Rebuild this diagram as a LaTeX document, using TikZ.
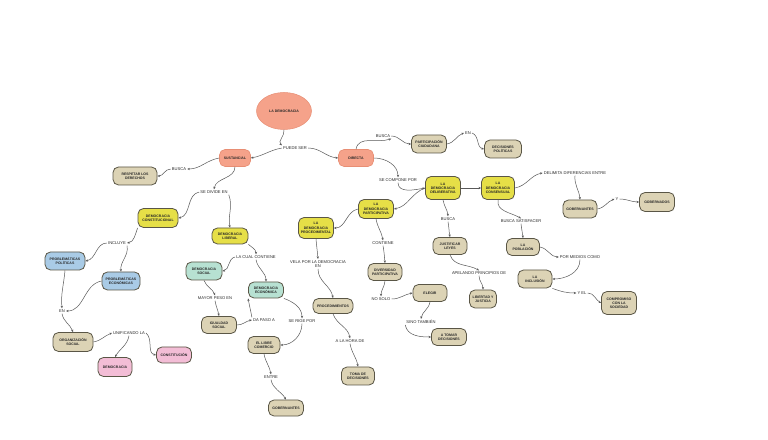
\documentclass[tikz,border=0pt]{standalone}
\usepackage{fontspec}
\setmainfont{Liberation Sans}
\usetikzlibrary{arrows.meta,shapes.geometric}
\definecolor{salmon}{HTML}{F5A28A}
\definecolor{salmonb}{HTML}{E88E74}
\definecolor{yel}{HTML}{E6DF47}
\definecolor{tanf}{HTML}{DCD3B5}
\definecolor{bluef}{HTML}{A9CBE6}
\definecolor{greenf}{HTML}{B7E1D2}
\definecolor{pinkf}{HTML}{F3BDD6}
\definecolor{bord}{HTML}{5A5646}
\tikzset{
  bx/.style={draw=bord, line width=0.8pt, rounded corners=5.5pt, align=center, inner sep=1pt,
     font=\bfseries\fontsize{3.5}{4.2}\selectfont, text=black!85},
  sal/.style={bx, fill=salmon, draw=salmonb, line width=0.6pt},
  yb/.style={bx, fill=yel},
  tb/.style={bx, fill=tanf},
  bb/.style={bx, fill=bluef},
  gb/.style={bx, fill=greenf},
  pb/.style={bx, fill=pinkf},
  lb/.style={align=center, inner sep=1pt, font=\fontsize{4.1}{4.8}\selectfont, text=black!85},
  ar/.style={-{Stealth[length=2.6pt,width=2.2pt]}, draw=black!65, line width=0.5pt},
}
\begin{document}
\begin{tikzpicture}[x=1pt,y=1pt]
\useasboundingbox (0,0) rectangle (768,439);
\fill[white] (0,0) rectangle (768,439);
% nodes
\node[ellipse, fill=salmon, draw=salmonb, line width=0.5pt, minimum width=55pt, minimum height=37pt, inner sep=0pt, font=\bfseries\fontsize{3.5}{4.2}\selectfont, text=black!85] (dem) at (284,328) {LA DEMOCRACIA};
\node[lb] (puede) at (295,291) {PUEDE SER};
\node[sal, minimum width=31pt, minimum height=17pt] (sust) at (235,281) {SUSTANCIAL};
\node[sal, minimum width=35pt, minimum height=17pt] (dir) at (356,281) {DIRECTA};
\node[lb] (busca1) at (179,270) {BUSCA};
\node[tb, minimum width=44pt, minimum height=18pt] (resp) at (135,263) {RESPETAR LOS\\DERECHOS};
\node[lb] (divide) at (214,247) {SE DIVIDE EN};
\node[yb, minimum width=40pt, minimum height=19pt] (const) at (158,221) {DEMOCRACIA\\CONSTITUCIONAL};
\node[yb, minimum width=36pt, minimum height=16pt] (lib) at (230,203) {DEMOCRACIA\\LIBERAL};
\node[lb] (incluye) at (117,196) {INCLUYE};
\node[bb, minimum width=40pt, minimum height=18pt] (ppol) at (65,178) {PROBLEMÁTICAS\\POLÍTICAS};
\node[bb, minimum width=38pt, minimum height=18pt] (peco) at (121,158) {PROBLEMÁTICAS\\ECONÓMICAS};
\node[lb] (en1) at (62,128) {EN};
\node[tb, minimum width=40pt, minimum height=19pt] (org) at (73,97) {ORGANIZACIÓN\\SOCIAL};
\node[lb] (unif) at (129,106) {UNIFICANDO LA};
\node[pb, minimum width=34pt, minimum height=19pt] (demp) at (115,72) {DEMOCRACIA};
\node[pb, minimum width=35pt, minimum height=16pt] (constp) at (174,84) {CONSTITUCIÓN};
\node[gb, minimum width=36pt, minimum height=18pt] (dsoc) at (204,168) {DEMOCRACIA\\SOCIAL};
\node[lb] (cual) at (256,182) {LA CUAL CONTIENE};
\node[gb, minimum width=35pt, minimum height=16pt] (deco) at (266,149) {DEMOCRACIA\\ECONÓMICA};
\node[lb] (mayor) at (215,141) {MAYOR PESO EN};
\node[tb, minimum width=35pt, minimum height=17pt] (igual) at (219,114) {IGUALDAD\\SOCIAL};
\node[lb] (dapaso) at (264,119) {DA PASO A};
\node[lb] (rige) at (302,118) {SE RIGE POR};
\node[tb, minimum width=32pt, minimum height=17pt] (libre) at (264,94) {EL LIBRE\\COMERCIO};
\node[lb] (entre) at (271,62) {ENTRE};
\node[tb, minimum width=35pt, minimum height=16pt] (gob1) at (286,31) {GOBERNANTES};
\node[yb, minimum width=35pt, minimum height=21pt] (proc) at (316,211) {LA\\DEMOCRACIA\\PROCEDIMENTAL};
\node[lb] (vela) at (318,175) {VELA POR LA DEMOCRACIA\\EN};
\node[tb, minimum width=40pt, minimum height=15pt] (procs) at (333,133) {PROCEDIMIENTOS};
\node[lb] (hora) at (350,98) {A LA HORA DE};
\node[tb, minimum width=33pt, minimum height=18pt] (toma) at (358,63) {TOMA DE\\DECISIONES};
\node[yb, minimum width=35pt, minimum height=19pt] (part) at (376,230) {LA\\DEMOCRACIA\\PARTICIPATIVA};
\node[lb] (contiene) at (383,196) {CONTIENE};
\node[tb, minimum width=34pt, minimum height=17pt] (divp) at (385,167) {DIVERSIDAD\\PARTICIPATIVA};
\node[lb] (nosolo) at (381,140) {NO SOLO};
\node[tb, minimum width=34pt, minimum height=17pt] (elegir) at (430,146) {ELEGIR};
\node[lb] (sino) at (421,117) {SINO TAMBIÉN};
\node[tb, minimum width=35pt, minimum height=17pt] (atomar) at (449,102) {A TOMAR\\DECISIONES};
\node[lb] (busca2) at (383,303) {BUSCA};
\node[tb, minimum width=35pt, minimum height=18pt] (pc) at (429,295) {PARTICIPACIÓN\\CIUDADANA};
\node[lb] (en2) at (468,306) {EN};
\node[tb, minimum width=37pt, minimum height=18pt] (decp) at (503,290) {DECISIONES\\POLÍTICAS};
\node[lb] (compone) at (398,259) {SE COMPONE POR};
\node[yb, minimum width=35pt, minimum height=23pt] (delib) at (443,251) {LA\\DEMOCRACIA\\DELIBERATIVA};
\node[yb, minimum width=33pt, minimum height=23pt] (cons) at (498,251) {LA\\DEMOCRACIA\\CONSENSUAL};
\node[lb] (delim) at (575,266) {DELIMITA DIFERENCIAS ENTRE};
\node[tb, minimum width=34pt, minimum height=18pt] (gob2) at (580,230) {GOBERNANTES};
\node[lb] (y) at (617,240) {Y};
\node[tb, minimum width=35pt, minimum height=19pt] (gobd) at (657,237) {GOBERNADOS};
\node[lb] (busca3) at (448,220) {BUSCA};
\node[tb, minimum width=34pt, minimum height=17pt] (just) at (450,193) {JUSTIFICAR\\LEYES};
\node[lb] (apel) at (479,166) {APELANDO PRINCIPIOS DE};
\node[tb, minimum width=27pt, minimum height=18pt] (libj) at (483,140) {LIBERTAD Y\\JUSTICIA};
\node[lb] (satis) at (521,218) {BUSCA SATISFACER};
\node[tb, minimum width=33pt, minimum height=17pt] (pob) at (523,192) {LA\\POBLACIÓN};
\node[lb] (medios) at (580,182) {POR MEDIOS COMO};
\node[tb, minimum width=34pt, minimum height=18pt] (incl) at (535,160) {LA\\INCLUSIÓN};
\node[lb] (yel) at (582,146) {Y EL};
\node[tb, minimum width=35pt, minimum height=23pt] (comp) at (619,136) {COMPROMISO\\CON LA\\SOCIEDAD};
% connectors
\draw[ar] (dem.south) to[out=-80,in=140] (puede.north west);
\draw[ar] (puede.west) to[out=190,in=10] (sust.east);
\draw[ar] (puede.east) to[out=0,in=175] (dir.west);
\draw[ar] (sust.west) to[out=190,in=0] (busca1.east);
\draw[ar] (busca1.west) to[out=180,in=0] (resp.east);
\draw[ar] (sust.south) to[out=-90,in=80] (divide.north);
\draw[ar] (divide.west) to[out=190,in=10] (const.east);
\draw[ar] (divide.south east) to[out=-70,in=100] (lib.north);
\draw[ar] (const.south west) to[out=-110,in=10] (incluye.east);
\draw[ar] (incluye.west) to[out=180,in=10] (ppol.east);
\draw[ar] (incluye.south east) to[out=-80,in=95] (peco.north);
\draw[ar] (ppol.south) to[out=-95,in=95] (en1.north);
\draw[ar] (peco.west) to[out=190,in=0] (en1.east);
\draw[ar] (en1.south) to[out=-80,in=110] (org.north);
\draw[ar] (org.east) to[out=10,in=200] (unif.west);
\draw[ar] (unif.south) to[out=-100,in=60] (demp.north);
\draw[ar] (unif.east) to[out=-40,in=170] (constp.west);
\draw[ar] (lib.south east) to[out=-40,in=90] (cual.north);
\draw[ar] (cual.west) to[out=190,in=10] (dsoc.east);
\draw[ar] (cual.south) to[out=-80,in=90] (deco.north);
\draw[ar] (dsoc.south) to[out=-70,in=110] (mayor.north);
\draw[ar] (mayor.south) to[out=-80,in=100] (igual.north);
\draw[ar] (igual.east) to[out=0,in=190] (dapaso.west);
\draw[ar] (dapaso.north west) to[out=100,in=-80] (deco.south west);
\draw[ar] (deco.south east) to[out=-20,in=90] (rige.north);
\draw[ar] (rige.south) to[out=-90,in=0] (libre.east);
\draw[ar] (libre.south) to[out=-80,in=100] (entre.north);
\draw[ar] (entre.south) to[out=-80,in=120] (gob1.north);
\draw[ar] (dir.north) to[out=80,in=200] (busca2.south east);
\draw[ar] (busca2.east) to[out=0,in=180] (pc.west);
\draw[ar] (pc.east) to[out=10,in=200] (en2.west);
\draw[ar] (en2.east) to[out=-20,in=170] (decp.west);
\draw[ar] (dir.east) to[out=0,in=90] (compone.north);
\draw[ar] (compone.south) to[out=-90,in=190] (delib.west);
\draw[ar] (delib.west) to[out=200,in=10] (part.east);
\draw[ar] (delib.east) -- (cons.west);
\draw[ar] (part.west) to[out=190,in=0] (proc.east);
\draw[ar] (part.south) to[out=-80,in=100] (contiene.north);
\draw[ar] (contiene.south) to[out=-80,in=95] (divp.north);
\draw[ar] (divp.south) to[out=-95,in=90] (nosolo.north);
\draw[ar] (nosolo.east) to[out=0,in=190] (elegir.west);
\draw[ar] (elegir.south) to[out=-100,in=80] (sino.north);
\draw[ar] (sino.south west) to[out=-80,in=180] (atomar.west);
\draw[ar] (proc.south) to[out=-85,in=95] (vela.north);
\draw[ar] (vela.south) to[out=-90,in=100] (procs.north);
\draw[ar] (procs.south) to[out=-70,in=100] (hora.north);
\draw[ar] (hora.south) to[out=-80,in=100] (toma.north);
\draw[ar] (delib.south) to[out=-80,in=95] (busca3.north);
\draw[ar] (busca3.south) to[out=-80,in=100] (just.north);
\draw[ar] (just.south) to[out=-70,in=150] (apel.north);
\draw[ar] (apel.south) to[out=-90,in=90] (libj.north);
\draw[ar] (cons.east) to[out=10,in=190] (delim.west);
\draw[ar] (delim.south) to[out=-95,in=95] (gob2.north);
\draw[ar] (gob2.east) to[out=10,in=200] (y.west);
\draw[ar] (y.east) to[out=0,in=180] (gobd.west);
\draw[ar] (cons.south) to[out=-100,in=150] (satis.north);
\draw[ar] (satis.south) to[out=-85,in=95] (pob.north);
\draw[ar] (pob.east) to[out=-10,in=180] (medios.west);
\draw[ar] (medios.south) to[out=-90,in=0] (incl.east);
\draw[ar] (incl.south east) to[out=-20,in=180] (yel.west);
\draw[ar] (yel.east) to[out=0,in=150] (comp.west);
\end{tikzpicture}
\end{document}
